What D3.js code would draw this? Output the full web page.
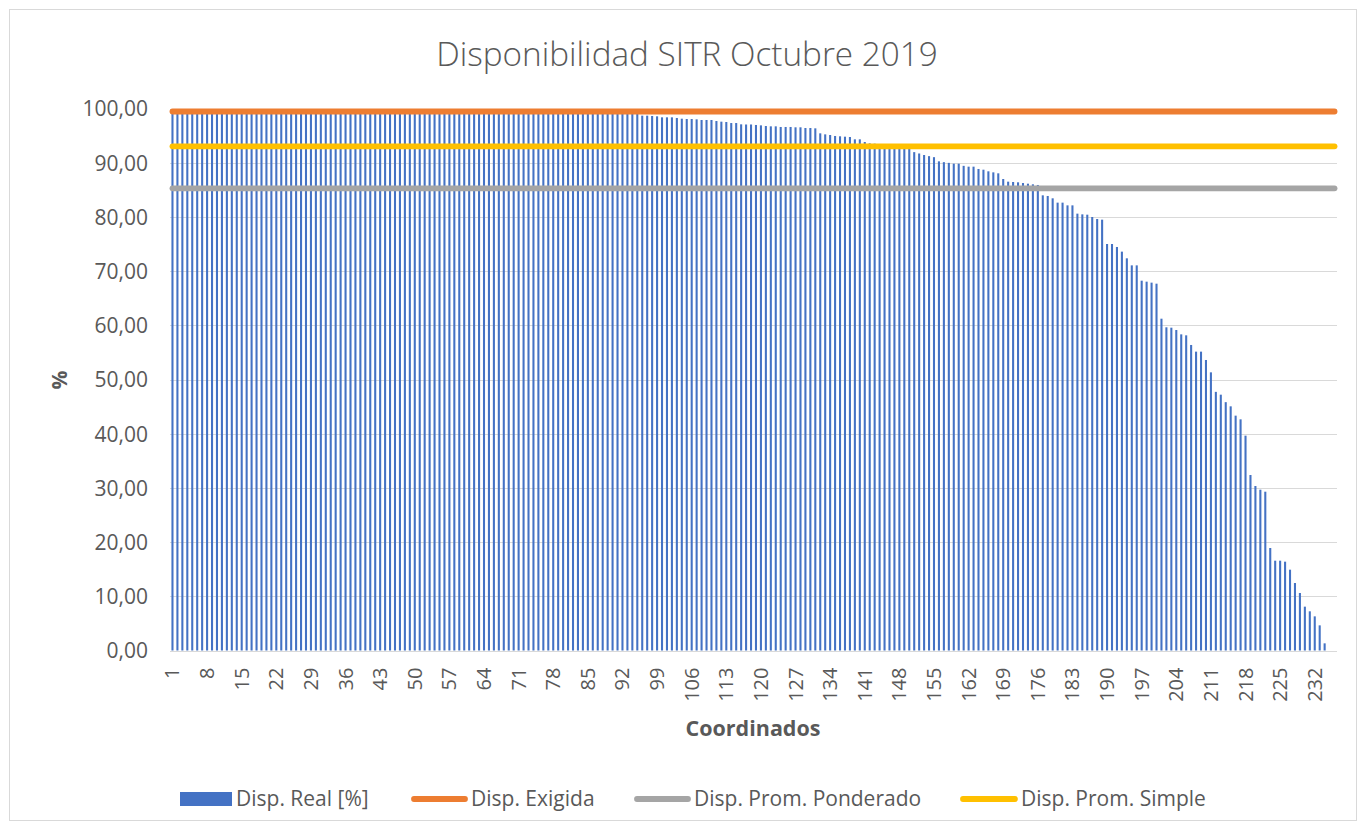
<!DOCTYPE html>
<html>
<head>
<meta charset="utf-8">
<script src="https://cdn.jsdelivr.net/npm/d3@7"></script>
<style>
  html, body { margin: 0; padding: 0; background: #fff; }
  svg { display: block; font-family: "Open Sans", "Noto Sans", sans-serif; }
</style>
</head>
<body>
<svg id="chart" width="1366" height="831"></svg>
<script>
// ---- data ----
const categories = d3.range(1, 237);
const dispReal = [
  99.80,99.80,99.80,99.80,99.80,99.80,99.80,99.80,99.80,99.80,
  99.80,99.80,99.80,99.80,99.80,99.80,99.80,99.80,99.80,99.80,
  99.80,99.80,99.80,99.80,99.80,99.80,99.80,99.80,99.80,99.80,
  99.80,99.80,99.80,99.80,99.80,99.80,99.80,99.80,99.80,99.80,
  99.70,99.70,99.70,99.70,99.70,99.70,99.70,99.70,99.70,99.70,
  99.70,99.70,99.70,99.70,99.70,99.70,99.70,99.70,99.70,99.70,
  99.70,99.70,99.70,99.70,99.70,99.70,99.70,99.70,99.70,99.70,
  99.50,99.50,99.50,99.50,99.50,99.50,99.50,99.50,99.50,99.50,
  99.50,99.50,99.50,99.50,99.50,99.20,99.20,99.20,99.20,99.20,
  99.20,99.20,99.20,99.20,99.00,98.68,98.68,98.62,98.56,98.37,
  98.37,98.37,98.25,98.12,98.06,98.06,98.00,97.88,97.88,97.88,
  97.69,97.57,97.51,97.32,97.32,97.08,97.05,97.05,96.96,96.89,
  96.77,96.71,96.71,96.59,96.59,96.59,96.53,96.53,96.40,96.40,
  96.34,95.42,95.23,95.11,94.93,94.87,94.80,94.74,94.31,94.31,
  93.82,93.57,93.51,93.35,93.25,93.15,93.05,92.95,92.85,92.70,
  91.95,91.70,91.42,91.21,91.02,90.25,90.10,89.97,89.82,89.82,
  89.42,89.27,89.27,88.84,88.71,88.41,88.22,88.04,86.99,86.50,
  86.44,86.38,86.25,86.13,86.01,85.89,83.98,83.86,83.43,82.63,
  82.63,82.13,82.13,80.60,80.47,80.41,79.98,79.61,79.49,75.00,
  75.00,74.45,73.59,72.36,71.06,71.06,68.23,68.05,67.87,67.68,
  61.22,59.63,59.56,59.13,58.33,58.15,56.37,55.14,55.14,53.60,
  51.32,47.72,47.20,45.82,45.05,43.33,42.65,39.64,32.38,30.35,
  29.67,29.30,18.91,16.57,16.57,16.39,14.91,12.45,10.61,8.09,
  7.23,6.30,4.64,1.32,0,0
];
const dispExigida = 99.45;
const dispPromPonderado = 85.28;
const dispPromSimple = 93.03;
const xTickLabels = [1,8,15,22,29,36,43,50,57,64,71,78,85,92,99,106,113,120,127,134,141,148,155,162,169,176,183,190,197,204,211,218,225,232];
const yTicks = [0,10,20,30,40,50,60,70,80,90,100];
const seriesNames = ["Disp. Real [%]", "Disp. Exigida", "Disp. Prom. Ponderado", "Disp. Prom. Simple"];
const colors = ["#4472C4", "#ED7D31", "#A5A5A5", "#FFC000"];

// ---- layout ----
const svg = d3.select("#chart");
const plot = { left: 170, right: 1337, top: 108.5, bottom: 650.5 };
const textColor = "#595959";

svg.append("rect").attr("x", 9.5).attr("y", 9.5).attr("width", 1347).attr("height", 811)
  .attr("fill", "#fff").attr("stroke", "#D9D9D9").attr("stroke-width", 1);

const x = d3.scaleBand().domain(categories).range([plot.left, plot.right])
  .paddingInner(0.58).paddingOuter(0.29);
const y = d3.scaleLinear().domain([0, 100]).range([plot.bottom, plot.top]);

// gridlines
svg.append("g").selectAll("line").data(yTicks).join("line")
  .attr("x1", plot.left).attr("x2", plot.right)
  .attr("y1", d => Math.round(y(d)) + 0.5).attr("y2", d => Math.round(y(d)) + 0.5)
  .attr("stroke", "#D9D9D9").attr("stroke-width", 1);

// y axis labels
const yAxis = d3.axisLeft(y).tickValues(yTicks).tickSize(0).tickPadding(0)
  .tickFormat(d => d3.format(".2f")(d).replace(".", ","));
const gy = svg.append("g").attr("transform", `translate(${plot.left - 22},0)`).call(yAxis);
gy.select(".domain").remove();
gy.selectAll("text").attr("fill", textColor).style("font-size", "21px")
  .style("font-family", '"Open Sans", sans-serif').attr("dy", "0.35em");

// bars
svg.append("g").selectAll("rect").data(categories).join("rect")
  .attr("x", d => x(d))
  .attr("width", x.bandwidth())
  .attr("y", (d, i) => y(dispReal[i]))
  .attr("height", (d, i) => plot.bottom - y(dispReal[i]))
  .attr("fill", colors[0]);

// lines
const lineGen = d3.line().x(d => x(d.c) + x.bandwidth() / 2).y(d => y(d.v));
[[dispPromPonderado, colors[2]], [dispPromSimple, colors[3]], [dispExigida, colors[1]]].forEach(([val, col]) => {
  svg.append("path")
    .datum(categories.map(c => ({ c, v: val })))
    .attr("d", lineGen)
    .attr("fill", "none").attr("stroke", col).attr("stroke-width", 5.8)
    .attr("stroke-linecap", "round");
});

// x axis labels
const xAxis = d3.axisBottom(x).tickValues(xTickLabels).tickSize(0).tickPadding(0);
const gx = svg.append("g").attr("transform", `translate(0,${plot.bottom})`).call(xAxis);
gx.select(".domain").remove();
gx.selectAll("text")
  .attr("fill", textColor).style("font-size", "20px")
  .style("font-family", '"Open Sans", sans-serif')
  .attr("text-anchor", "end")
  .attr("transform", `translate(0,17) rotate(-90)`)
  .attr("x", 0).attr("y", 0).attr("dy", "0.35em");

// title
svg.append("text").attr("x", 687).attr("y", 66).attr("text-anchor", "middle")
  .attr("fill", textColor).style("font-size", "33.3px").style("font-weight", "300")
  .style("font-family", '"Open Sans", sans-serif')
  .text("Disponibilidad SITR Octubre 2019");

// axis titles
svg.append("text").attr("x", 753).attr("y", 736).attr("text-anchor", "middle")
  .attr("fill", textColor).style("font-size", "21.5px").style("font-weight", "bold")
  .text("Coordinados");
svg.append("text").attr("transform", "translate(67,380) rotate(-90)").attr("text-anchor", "middle")
  .attr("fill", textColor).style("font-size", "21px").style("font-weight", "bold")
  .text("%");

// legend
const legY = 799;
const legend = [
  { name: seriesNames[0], col: colors[0], type: "rect", x0: 180, x1: 232 },
  { name: seriesNames[1], col: colors[1], type: "line", x0: 414, x1: 465 },
  { name: seriesNames[2], col: colors[2], type: "line", x0: 637, x1: 688 },
  { name: seriesNames[3], col: colors[3], type: "line", x0: 963, x1: 1015 }
];
legend.forEach(l => {
  if (l.type === "rect") {
    svg.append("rect").attr("x", l.x0).attr("y", legY - 7).attr("width", l.x1 - l.x0).attr("height", 14).attr("fill", l.col);
  } else {
    svg.append("line").attr("x1", l.x0).attr("x2", l.x1).attr("y1", legY).attr("y2", legY)
      .attr("stroke", l.col).attr("stroke-width", 5.8).attr("stroke-linecap", "round");
  }
  svg.append("text").attr("x", l.x1 + (l.type === "rect" ? 4 : 6)).attr("y", legY).attr("dy", "0.35em")
    .attr("fill", textColor).style("font-size", "21px").text(l.name);
});
</script>
</body>
</html>
